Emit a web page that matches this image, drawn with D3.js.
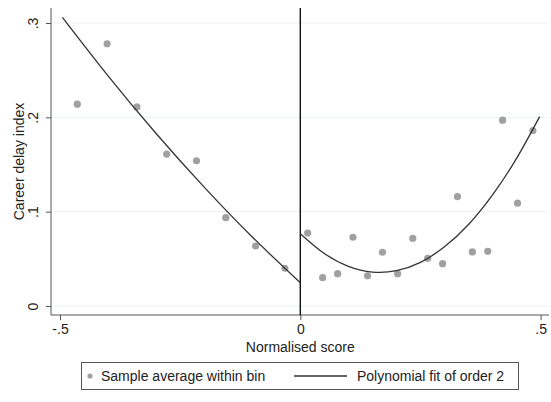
<!DOCTYPE html>
<html><head><meta charset="utf-8">
<script src="https://cdn.jsdelivr.net/npm/d3@7"></script>
<style>body{margin:0;background:#fff}svg{display:block;font-family:Arial,"Liberation Sans",sans-serif}</style>
</head><body><svg id="c" width="551" height="402"></svg>
<script>
// Binned sample averages
const binX = [-0.464,-0.402,-0.340,-0.278,-0.216,-0.155,-0.093,-0.032,
  0.0154,0.0465,0.0777,0.1096,0.140,0.171,0.2025,0.234,0.265,0.296,0.327,0.358,0.390,0.421,0.452,0.484];
const binY = [0.214,0.278,0.211,0.161,0.154,0.0936,0.0636,0.040,
  0.0774,0.030,0.0343,0.0729,0.032,0.057,0.0343,0.0718,0.0506,0.0449,0.116,0.0573,0.058,0.197,0.109,0.186];
// Polynomial fit (order 2)
const fitLeftX = [-0.495,-0.4,-0.3,-0.2,-0.1,0];
const fitLeftY = [0.306,0.244,0.1829,0.126,0.0732,0.0247];
const fitRightX = [0,0.05,0.1,0.15,0.2,0.25,0.3,0.35,0.4,0.45,0.498];
const fitRightY = [0.0767,0.0556,0.0421,0.036,0.0374,0.0463,0.0627,0.0864,0.1178,0.1565,0.2008];
const xTicks = [-0.5,0,0.5];
const xTickLabels = ["-.5","0",".5"];
const yTicks = [0,0.1,0.2,0.3];
const yTickLabels = ["0",".1",".2",".3"];
const legendLabels = ["Sample average within bin","Polynomial fit of order 2"];

const svg = d3.select("#c");
const L=51,R=549,T=8,B=315;
const x = d3.scaleLinear().domain([-0.5,0.5]).range([60,540.6]);
const y = d3.scaleLinear().domain([0,0.3]).range([306,23]);
const fs = 14;

// gridlines
svg.append("g").selectAll("line").data(yTicks).join("line")
  .attr("x1",L).attr("x2",R).attr("y1",d=>y(d)).attr("y2",d=>y(d))
  .attr("stroke","#eaf2f3").attr("stroke-width",1);

// y axis
const ya = svg.append("g").attr("transform",`translate(${L},0)`)
  .call(d3.axisLeft(y).tickValues(yTicks).tickFormat((d,i)=>yTickLabels[i]).tickSize(5).tickPadding(0));
ya.select(".domain").remove();
ya.append("line").attr("x1",0).attr("x2",0).attr("y1",T).attr("y2",B).attr("stroke","#555");
ya.selectAll(".tick line").attr("stroke","#555");
ya.selectAll(".tick text").attr("font-size",fs).attr("fill","#222").attr("font-family","Arial,'Liberation Sans',sans-serif")
  .attr("transform","translate(-13.5,0) rotate(-90)").attr("text-anchor","middle").attr("dy","0").attr("x",0).attr("y",0);

// x axis
const xa = svg.append("g").attr("transform",`translate(0,${B})`)
  .call(d3.axisBottom(x).tickValues(xTicks).tickFormat((d,i)=>xTickLabels[i]).tickSize(5).tickPadding(4));
xa.select(".domain").remove();
xa.append("line").attr("x1",L).attr("x2",R).attr("y1",0).attr("y2",0).attr("stroke","#555");
xa.selectAll(".tick line").attr("stroke","#555");
xa.selectAll(".tick text").attr("font-size",fs).attr("fill","#222").attr("font-family","Arial,'Liberation Sans',sans-serif");

// titles
svg.append("text").attr("x",x(0)).attr("y",351.5).attr("text-anchor","middle")
  .attr("font-size",fs).attr("fill","#222").text("Normalised score");
svg.append("text").attr("transform",`translate(24,${(T+B)/2}) rotate(-90)`).attr("text-anchor","middle")
  .attr("font-size",fs).attr("fill","#222").text("Career delay index");

// cutoff line
svg.append("line").attr("x1",x(0)).attr("x2",x(0)).attr("y1",T).attr("y2",B)
  .attr("stroke","#111").attr("stroke-width",1.4);

// points
svg.append("g").selectAll("circle").data(binX.map((v,i)=>[v,binY[i]])).join("circle")
  .attr("cx",d=>x(d[0])).attr("cy",d=>y(d[1])).attr("r",3.6).attr("fill","#a0a0a0");

// fit lines
const line = d3.line().x(d=>x(d[0])).y(d=>y(d[1])).curve(d3.curveNatural);
[[fitLeftX,fitLeftY],[fitRightX,fitRightY]].forEach(([xs,ys])=>{
  svg.append("path").attr("d",line(xs.map((v,i)=>[v,ys[i]])))
    .attr("fill","none").attr("stroke","#333").attr("stroke-width",1.3);
});

// legend
const lg = svg.append("g");
lg.append("rect").attr("x",81.5).attr("y",362.5).attr("width",437).attr("height",27)
  .attr("fill","#fff").attr("stroke","#555").attr("stroke-width",1);
lg.append("circle").attr("cx",90).attr("cy",376).attr("r",2.6).attr("fill","#a0a0a0");
lg.append("text").attr("x",101).attr("y",381).attr("font-size",fs).attr("fill","#222").text(legendLabels[0]);
lg.append("line").attr("x1",294).attr("x2",347).attr("y1",376).attr("y2",376).attr("stroke","#333").attr("stroke-width",1.3);
lg.append("text").attr("x",357).attr("y",381).attr("font-size",fs).attr("fill","#222").text(legendLabels[1]);
</script></body></html>
